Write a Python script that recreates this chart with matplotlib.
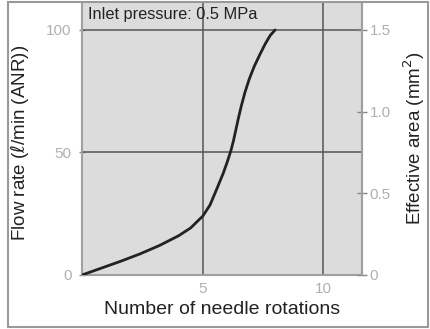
import numpy as np
import matplotlib.pyplot as plt

# flow-rate curve
rotations = [0, 0.8, 1.6, 2.4, 3.2, 4.0, 4.5, 5.0, 5.3, 5.6, 5.85, 6.03, 6.17,
             6.28, 6.38, 6.48, 6.6, 6.75, 6.93, 7.13, 7.37, 7.6, 7.8, 8.0]
flow_rate = [0, 2.8, 5.6, 8.6, 12.0, 16.0, 19.2, 24.0, 28.5, 35.5, 41.5, 46.5, 50.8,
             55.0, 59.5, 64.0, 69.0, 74.5, 80.0, 85.0, 90.0, 94.5, 97.8, 100]

x_ticks = [5, 10]
left_ticks = [0, 50, 100]
right_ticks = [0, 0.5, 1.0, 1.5]
right_tick_labels = ["0", "0.5", "1.0", "1.5"]

plt.rcParams['font.family'] = ['Liberation Sans', 'DejaVu Sans']

fig = plt.figure(figsize=(4.3, 3.29), dpi=100)
ax = fig.add_axes([82/430, 1 - 275/329, 280/430, 272/329])
ax.set_facecolor('#dcdcdc')

ax.plot(rotations, flow_rate, color='#222222', lw=2.0, solid_capstyle='round',
        solid_joinstyle='round', zorder=3)

ax.set_xlim(0, 11.6)
ax.set_ylim(0, 111)
ax.set_xticks(x_ticks)
ax.set_yticks(left_ticks)
ax.tick_params(axis='x', length=0, labelsize=11, labelcolor='#b0b0b0', pad=5)
ax.tick_params(axis='y', direction='inout', length=5, width=1, color='#888888',
               labelsize=11, labelcolor='#b0b0b0', pad=5)
for v in x_ticks:
    ax.axvline(v, color='#555555', lw=1.1, zorder=2)
for v in [50, 100]:
    ax.axhline(v, color='#555555', lw=1.1, zorder=2)

for side in ['left', 'bottom', 'right']:
    ax.spines[side].set_color('#a0a0a0')
    ax.spines[side].set_linewidth(1.5)
ax.spines['top'].set_visible(False)

ax2 = ax.twinx()
ax2.set_ylim(0, 111 * 0.015)
ax2.set_yticks(right_ticks)
ax2.set_yticklabels(right_tick_labels)
ax2.tick_params(direction='inout', length=7, width=1, color='#888888',
                labelsize=11, labelcolor='#b0b0b0', pad=2)
ax2.spines['top'].set_visible(False)
ax2.spines['right'].set_color('#a0a0a0')
ax2.spines['right'].set_linewidth(1.5)
ax2.spines['left'].set_visible(False)
ax2.spines['bottom'].set_visible(False)

ax.text(0.25, 103.3, 'Inlet pressure: 0.5 MPa', fontsize=11.8, color='#222222',
        va='bottom', ha='left')

fig.text(222/430, 1 - 310/329, 'Number of needle rotations', fontsize=14,
         color='#222222', ha='center', va='center')
fig.text(20/430, 1 - 143/329, r'Flow rate ($\ell$/min (ANR))', fontsize=13.5,
         color='#222222', ha='center', va='center', rotation=90)
fig.text(414/430, 1 - 138/329, r'Effective area (mm$^2$)', fontsize=13.5,
         color='#222222', ha='center', va='center', rotation=90)

# outer frame
fig.patches.append(plt.Rectangle((8/430, 1 - 327/329), 420/430, 325/329,
                                 transform=fig.transFigure, fill=False,
                                 edgecolor='#999999', lw=1.5))

fig.savefig('out.png', dpi=100)
